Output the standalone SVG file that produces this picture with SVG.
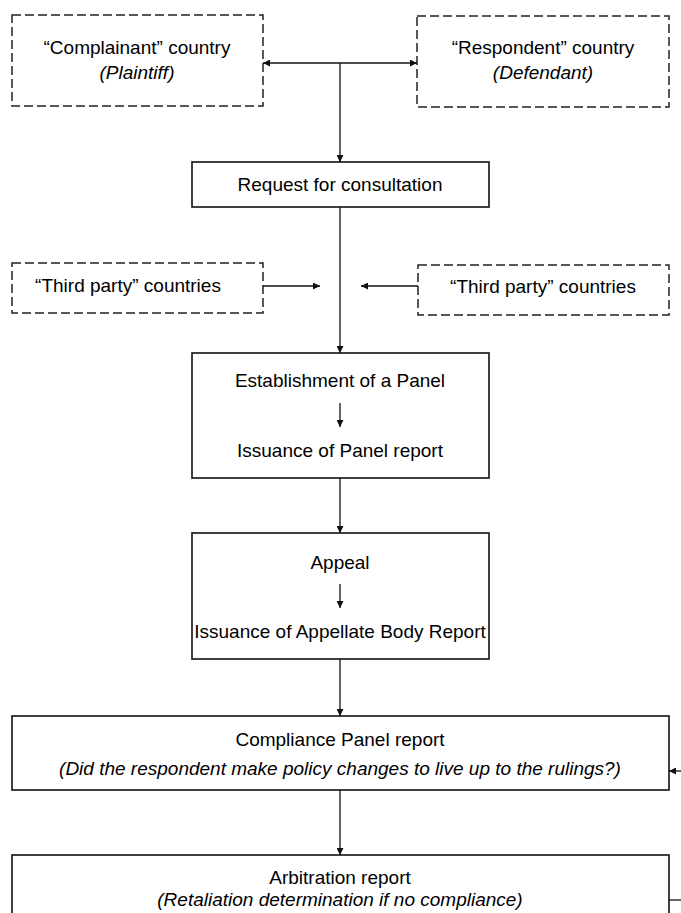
<svg xmlns="http://www.w3.org/2000/svg" width="681" height="913" viewBox="0 0 681 913">
<style>
.dash{fill:#fff;stroke:#222;stroke-width:1.5;stroke-dasharray:9 4}
.solid{fill:#fff;stroke:#111;stroke-width:1.6}
.t{font-family:"Liberation Sans",Arial,sans-serif;font-size:19px;fill:#000;text-anchor:middle}
.i{font-style:italic}
.c{stroke:#111;stroke-width:1.3;fill:none}
</style>
<defs>
<marker id="ah" viewBox="0 0 10 10" refX="10" refY="5" markerWidth="7" markerHeight="7" orient="auto-start-reverse" markerUnits="userSpaceOnUse">
<path d="M0,0 L10,5 L0,10 z" fill="#111"/>
</marker>
</defs>
<rect width="681" height="913" fill="#fff"/>
<g id="complainant">
<rect class="dash" x="12" y="15" width="251" height="91"/>
<text class="t" x="137" y="54">“Complainant” country</text>
<text class="t i" x="137" y="79">(Plaintiff)</text>
</g>
<g id="respondent">
<rect class="dash" x="417" y="16" width="252" height="91"/>
<text class="t" x="543" y="54">“Respondent” country</text>
<text class="t i" x="543" y="79">(Defendant)</text>
</g>
<g id="request">
<rect class="solid" x="192" y="162" width="297" height="45"/>
<text class="t" x="340" y="191">Request for consultation</text>
</g>
<g id="third-left">
<rect class="dash" x="12" y="263" width="251" height="50"/>
<text class="t" x="128" y="292">“Third party”  countries</text>
</g>
<g id="third-right">
<rect class="dash" x="418" y="265" width="251" height="50"/>
<text class="t" x="543" y="293">“Third party” countries</text>
</g>
<g id="panel">
<rect class="solid" x="192" y="353" width="297" height="125"/>
<text class="t" x="340" y="387">Establishment of a Panel</text>
<text class="t" x="340" y="457">Issuance of Panel report</text>
<line class="c" x1="340" y1="403" x2="340" y2="427" marker-end="url(#ah)"/>
</g>
<g id="appeal">
<rect class="solid" x="192" y="533" width="297" height="126"/>
<text class="t" x="340" y="569">Appeal</text>
<text class="t" x="340" y="638">Issuance of Appellate Body Report</text>
<line class="c" x1="340" y1="584" x2="340" y2="608" marker-end="url(#ah)"/>
</g>
<g id="compliance">
<rect class="solid" x="12" y="716" width="657" height="74"/>
<text class="t" x="340" y="746">Compliance Panel report</text>
<text class="t i" x="340" y="775">(Did the respondent make policy changes to live up to the rulings?)</text>
</g>
<g id="arbitration">
<rect class="solid" x="12" y="855" width="657" height="70"/>
<text class="t" x="340" y="884">Arbitration report</text>
<text class="t i" x="340" y="906">(Retaliation determination if no compliance)</text>
</g>
<g id="connectors">
<line class="c" x1="263" y1="63" x2="417" y2="63" marker-start="url(#ah)" marker-end="url(#ah)"/>
<line class="c" x1="340" y1="63" x2="340" y2="162" marker-end="url(#ah)"/>
<line class="c" x1="340" y1="207" x2="340" y2="353" marker-end="url(#ah)"/>
<line class="c" x1="263" y1="286" x2="320" y2="286" marker-end="url(#ah)"/>
<line class="c" x1="418" y1="286" x2="361" y2="286" marker-end="url(#ah)"/>
<line class="c" x1="340" y1="478" x2="340" y2="533" marker-end="url(#ah)"/>
<line class="c" x1="340" y1="659" x2="340" y2="716" marker-end="url(#ah)"/>
<line class="c" x1="340" y1="790" x2="340" y2="855" marker-end="url(#ah)"/>
<line class="c" x1="681" y1="771" x2="669" y2="771" marker-end="url(#ah)"/>
<line class="c" x1="669" y1="900" x2="681" y2="900"/>
</g>
</svg>
